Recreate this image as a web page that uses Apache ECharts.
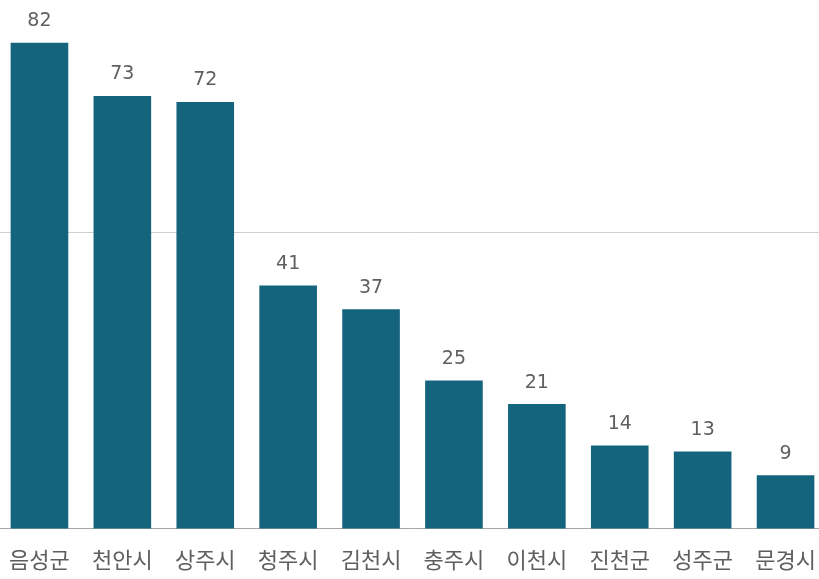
<!DOCTYPE html>
<html>
<head>
<meta charset="utf-8">
<script src="https://cdn.jsdelivr.net/npm/echarts@6/dist/echarts.min.js"></script>
<style>
html,body{margin:0;padding:0;background:#fff;overflow:hidden;width:819px;height:579px;}
#chart{position:absolute;left:-2px;top:0;width:829px;height:579px;}
</style>
</head>
<body>
<div id="chart"></div>
<script>
const categories = ['음성군','천안시','상주시','청주시','김천시','충주시','이천시','진천군','성주군','문경시'];
const values = [82,73,72,41,37,25,21,14,13,9];
const yTickStep = 50;
const yMax = 89.2;

const chart = echarts.init(document.getElementById('chart'), null, {renderer:'canvas'});
chart.setOption({
  animation:false,
  backgroundColor:'#ffffff',
  grid:{left:0, right:0, top:0, bottom:50.5, containLabel:false},
  xAxis:{
    type:'category',
    data:categories,
    axisLine:{show:true, lineStyle:{color:'#a6a6a6', width:1}},
    axisTick:{show:false},
    axisLabel:{
      interval:0, margin:20,
      fontFamily:'"Noto Sans CJK KR", sans-serif',
      fontSize:22, color:'#5f5f5f'
    }
  },
  yAxis:{
    type:'value',
    min:0, max:yMax, interval:yTickStep,
    axisLine:{show:false},
    axisTick:{show:false},
    axisLabel:{show:false},
    splitLine:{show:true, showMaxLine:false, lineStyle:{color:'#cfcfcf', width:1}}
  },
  series:[{
    type:'bar',
    data:values,
    barCategoryGap:'30.5%',
    itemStyle:{color:'#14647e'},
    label:{
      show:true, position:'top', distance:12,
      fontFamily:'"DejaVu Sans", sans-serif',
      fontSize:19, color:'#5f5f5f'
    }
  }]
});
</script>
</body>
</html>
